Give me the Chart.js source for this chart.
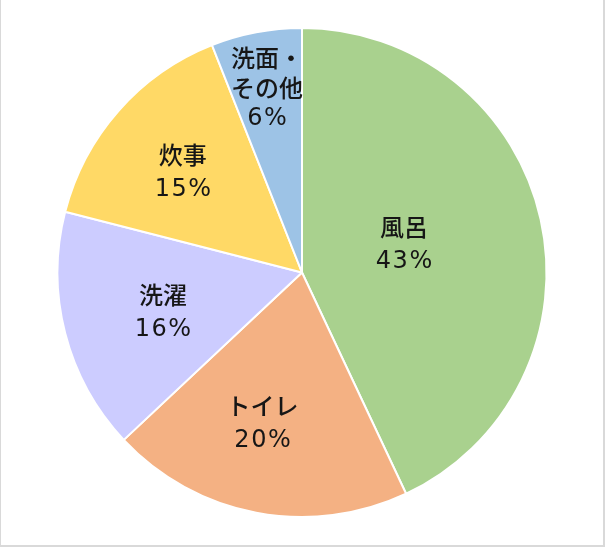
<!DOCTYPE html>
<html>
<head>
<meta charset="utf-8">
<script src="https://cdn.jsdelivr.net/npm/chart.js@4.4.0/dist/chart.umd.min.js"></script>
<style>
    html, body { margin: 0; padding: 0; background: #fff; }
    #wrap {
        position: relative;
        width: 605px;
        height: 547px;
        box-sizing: border-box;
        border-left: 1px solid #d9d9d9;
        border-right: 2px solid #d9d9d9;
        border-bottom: 2px solid #d9d9d9;
    }
</style>
</head>
<body>
<div id="wrap"><canvas id="usageChart"></canvas></div>
<script>
// Water usage breakdown
const categories = [['風呂'], ['トイレ'], ['洗濯'], ['炊事'], ['洗面・', 'その他']];
const shares = [43, 20, 16, 15, 6];
const sliceColors = ['#a9d18e', '#f4b183', '#ccccff', '#ffd966', '#9dc3e6'];
// label placement: fraction of radius + small angle nudge (deg)
const labelRadius = [0.433, 0.636, 0.591, 0.639, 0.765];
const labelNudge = [-2.9, 3.9, -1.4, -1.1, 0];

// Draw category + percent inside each slice
const sliceLabels = {
    id: 'sliceLabels',
    afterDatasetsDraw(chart) {
        const ctx = chart.ctx;
        const meta = chart.getDatasetMeta(0);
        ctx.save();
        ctx.fillStyle = '#161616';
        ctx.textAlign = 'center';
        ctx.textBaseline = 'middle';
        meta.data.forEach(function(arc, i) {
            const p = arc.getProps(['x', 'y', 'startAngle', 'endAngle', 'outerRadius'], true);
            const mid = (p.startAngle + p.endAngle) / 2 + labelNudge[i] * Math.PI / 180;
            const r = p.outerRadius * labelRadius[i];
            const cx = p.x + Math.cos(mid) * r;
            const cy = p.y + Math.sin(mid) * r - 1;
            const lines = categories[i].concat([shares[i] + '%']);
            const lh = lines.length > 2 ? 30 : 32;
            const top = cy - (lines.length - 1) * lh / 2;
            lines.forEach(function(t, j) {
                const isPct = j === lines.length - 1;
                if (isPct) {
                    ctx.font = '400 24px "DejaVu Sans", sans-serif';
                    ctx.letterSpacing = '1.5px';
                    ctx.fillText(t, cx + 0.75, top + j * lh + (lines.length > 2 ? 1 : 3));
                } else {
                    ctx.font = '500 24px "Noto Sans CJK JP", "Noto Sans", sans-serif';
                    ctx.letterSpacing = '0px';
                    ctx.fillText(t, cx, top + j * lh);
                }
            });
        });
        ctx.restore();
    }
};

new Chart(document.getElementById('usageChart'), {
    type: 'pie',
    data: {
        labels: categories.map(c => c.join('')),
        datasets: [{
            data: shares,
            backgroundColor: sliceColors,
            borderColor: '#ffffff',
            borderWidth: 2
        }]
    },
    options: {
        responsive: true,
        maintainAspectRatio: false,
        animation: false,
        layout: {
            padding: { top: 27, bottom: 27, left: 0, right: 0 }
        },
        plugins: {
            legend: { display: false },
            tooltip: { enabled: false }
        }
    },
    plugins: [sliceLabels]
});
</script>
</body>
</html>
